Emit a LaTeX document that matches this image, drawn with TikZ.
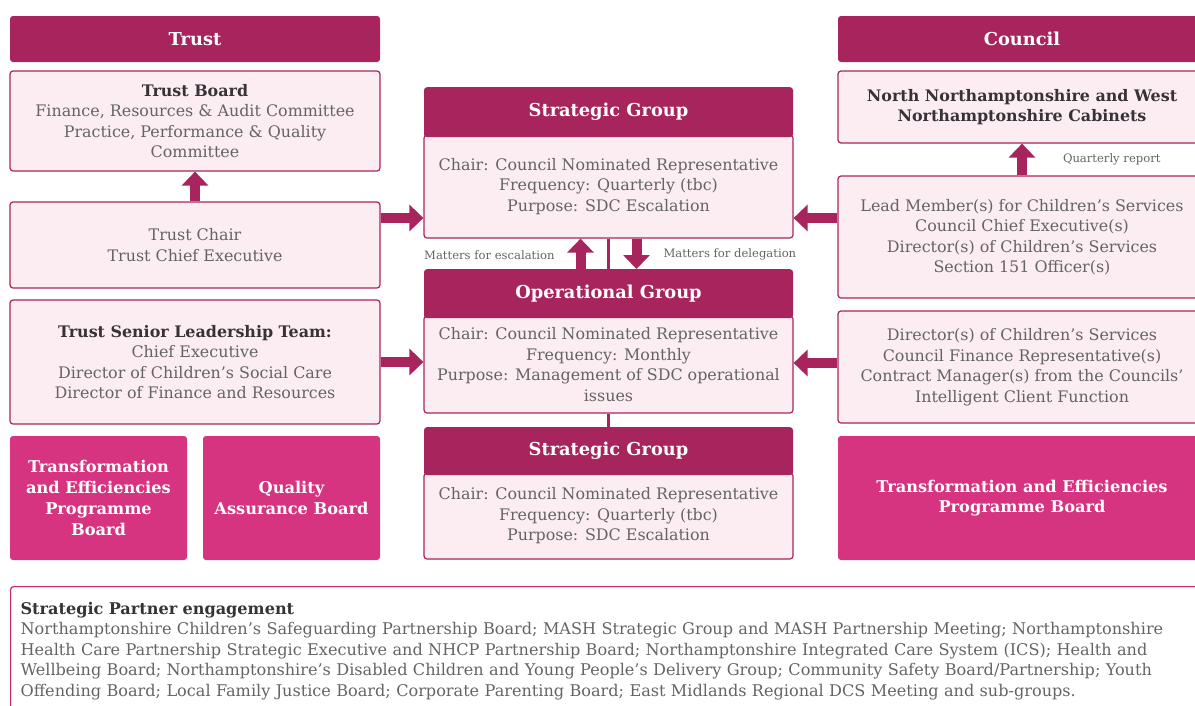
\documentclass[tikz,border=0pt]{standalone}
\usepackage{fontspec}
\setmainfont{DejaVu Serif}
\usepackage{tikz}
\usetikzlibrary{arrows.meta}
\definecolor{rosedark}{RGB}{168,36,92}
\definecolor{rosehot}{RGB}{214,52,128}
\definecolor{roselight}{RGB}{252,237,243}
\definecolor{roseline}{RGB}{200,40,90}
\definecolor{textgrey}{RGB}{100,100,100}
\definecolor{textdark}{RGB}{55,50,55}
\tikzset{
  head/.style={fill=rosedark, rounded corners=3pt, text=white, inner sep=0pt,
      font=\fontsize{17.8}{20}\selectfont\bfseries, minimum width=370pt, minimum height=46pt},
  box/.style={draw=rosedark, line width=1.2pt, fill=roselight, rounded corners=3pt,
      text=textgrey, align=center, inner sep=0pt, minimum width=370pt,
      font=\fontsize{15.9}{20.5}\selectfont},
  board/.style={fill=rosehot, rounded corners=3pt, text=white, align=center, inner sep=0pt,
      font=\fontsize{16.2}{20.7}\selectfont\bfseries, minimum height=124pt},
  bigarrow/.style={draw=rosedark, line width=10pt, -{Triangle[width=26pt,length=14pt]}},
  note/.style={text=textgrey, inner sep=0pt, font=\fontsize{11.6}{13}\selectfont},
}
\newcommand{\hd}[1]{{\bfseries\color{textdark}#1}}

\begin{document}
\begin{tikzpicture}[x=1pt,y=-1pt]
  \useasboundingbox (0,0) rectangle (1195,705);

  \node[head] (trust) at (195,39) {Trust};
  \node[box, minimum height=100pt] (tboard) at (195,121)
    {\hd{Trust Board}\\Finance, Resources \& Audit Committee\\Practice, Performance \& Quality\\Committee};
  \node[box, minimum height=86pt] (tchair) at (195,245)
    {Trust Chair\\Trust Chief Executive};
  \node[box, minimum height=124pt] (tslt) at (195,362)
    {\hd{Trust Senior Leadership Team:}\\Chief Executive\\Director of Children's Social Care\\Director of Finance and Resources};
  \node[board, minimum width=177pt] (tteb) at (98.5,498)
    {Transformation\\and Efficiencies\\Programme\\Board};
  \node[board, minimum width=177pt] (tqab) at (291.5,498)
    {Quality\\Assurance Board};

  \node[box, minimum width=369pt, minimum height=103pt] (sg1) at (608.5,186.5)
    {Chair: Council Nominated Representative\\Frequency: Quarterly (tbc)\\Purpose: SDC Escalation};
  \node[head, minimum width=369pt, minimum height=50pt, anchor=south] (sg1h)
    at ([yshift=-3pt]sg1.north) {Strategic Group};
  \node[box, minimum width=369pt, minimum height=97pt] (og) at (608.5,364.5)
    {Chair: Council Nominated Representative\\Frequency: Monthly\\Purpose: Management of SDC operational\\issues};
  \node[head, minimum width=369pt, minimum height=49pt, anchor=south] (ogh)
    at ([yshift=-3pt]og.north) {Operational Group};
  \node[box, minimum width=369pt, minimum height=86pt] (sg2) at (608.5,516)
    {Chair: Council Nominated Representative\\Frequency: Quarterly (tbc)\\Purpose: SDC Escalation};
  \node[head, minimum width=369pt, minimum height=48pt, anchor=south] (sg2h)
    at ([yshift=-3pt]sg2.north) {Strategic Group};

  \node[head, minimum width=368pt] (council) at (1022,39) {Council};
  \node[box, minimum width=368pt, minimum height=72pt] (cab) at (1022,107)
    {\hd{North Northamptonshire and West}\\\hd{Northamptonshire Cabinets}};
  \node[box, minimum width=368pt, minimum height=122pt] (clead) at (1022,237)
    {Lead Member(s) for Children's Services\\Council Chief Executive(s)\\Director(s) of Children's Services\\Section 151 Officer(s)};
  \node[box, minimum width=368pt, minimum height=112pt] (cdir) at (1022,367)
    {Director(s) of Children's Services\\Council Finance Representative(s)\\Contract Manager(s) from the Councils'\\Intelligent Client Function};
  \node[board, minimum width=368pt] (cteb) at (1022,498)
    {Transformation and Efficiencies\\Programme Board};

  \draw[bigarrow] (tchair.north) -- (tboard.south);
  \draw[bigarrow] ([yshift=27pt]tchair.east) -- ([yshift=27pt]tchair.east -| sg1.west);
  \draw[bigarrow] (tslt.east) -- (tslt.east -| og.west);
  \draw[bigarrow] ([yshift=19pt]clead.west) -- ([yshift=19pt]clead.west -| sg1.east);
  \draw[bigarrow] ([yshift=4pt]cdir.west) -- ([yshift=4pt]cdir.west -| og.east);
  \draw[bigarrow] (clead.north) -- (cab.south)
    node[note, midway, right=36pt] {Quarterly report};

  \draw[rosedark, line width=3pt] (sg1.south) -- (ogh.north);
  \draw[rosedark, line width=3pt] (og.south) -- (sg2h.north);
  \draw[bigarrow] ([xshift=-28pt]ogh.north) -- ([xshift=-28pt]sg1.south)
    node[note, midway, left=21pt, yshift=-1pt] {Matters for escalation};
  \draw[bigarrow] ([xshift=28pt]sg1.south) -- ([xshift=28pt]ogh.north)
    node[note, midway, right=22pt, yshift=-1pt] {Matters for delegation};

  \node[draw=roseline, line width=1.2pt, rounded corners=3pt, anchor=north west,
        text width=1195pt, minimum height=129pt, inner xsep=10pt, inner ysep=0pt,
        align=left, text=textgrey, font=\fontsize{16.1}{20.5}\selectfont] (partner) at (10,586)
    {\hd{Strategic Partner engagement}\\
     Northamptonshire Children's Safeguarding Partnership Board; MASH Strategic Group and MASH Partnership Meeting; Northamptonshire\\
     Health Care Partnership Strategic Executive and NHCP Partnership Board; Northamptonshire Integrated Care System (ICS); Health and\\
     Wellbeing Board; Northamptonshire's Disabled Children and Young People's Delivery Group; Community Safety Board/Partnership; Youth\\
     Offending Board; Local Family Justice Board; Corporate Parenting Board; East Midlands Regional DCS Meeting and sub-groups.};
\end{tikzpicture}
\end{document}
